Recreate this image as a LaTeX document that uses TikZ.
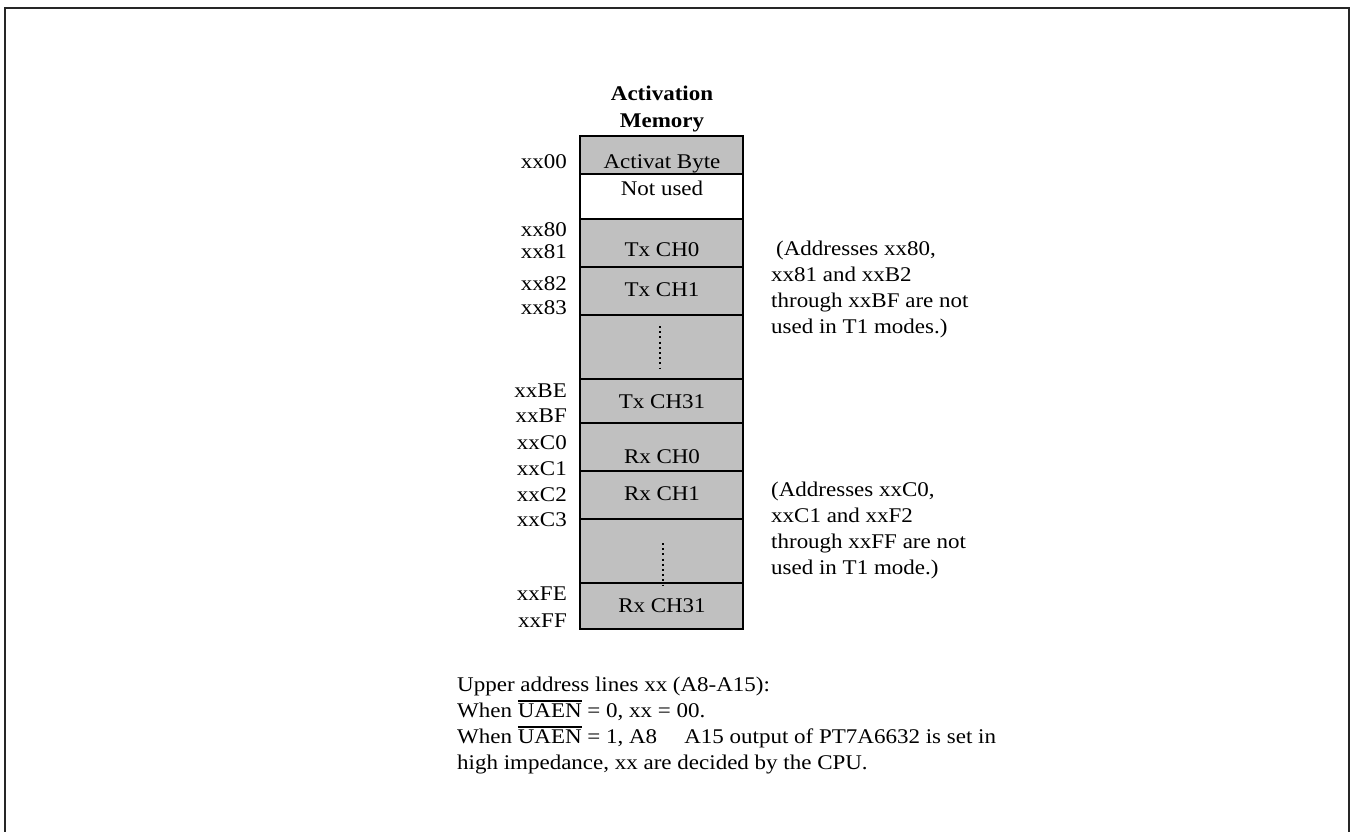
\documentclass[tikz,border=0pt]{standalone}
\usepackage{fontspec}
\setmainfont{Liberation Serif}[FakeStretch=1.1]
\definecolor{cellgray}{HTML}{C0C0C0}
\newcommand\ovl[1]{\leavevmode\vbox{\hrule height 1.2pt\kern 1.6pt\hbox{#1}}}
\begin{document}
\begin{tikzpicture}[x=1pt,y=-1pt,
  txt/.style={font=\fontsize{20.9}{26}\selectfont, inner sep=0pt, anchor=base},
  addr/.style={txt, anchor=base east},
  ttl/.style={txt, font=\fontsize{20.9}{26}\selectfont\bfseries},
  note/.style={txt, anchor=base west},
  rowline/.style={line width=1.4pt},
  dotline/.style={line width=2.2pt, dash pattern=on 2pt off 3.2pt},
  frame/.style={line width=2pt, black!85}]
\useasboundingbox (0,0) rectangle (1351,832);
% outer frame
\draw[frame] (5,832) -- (5,8) -- (1349,8) -- (1349,832);
% memory column
\fill[cellgray] (580,136) rectangle (743,174);
\fill[cellgray] (580,219) rectangle (743,629);
\foreach \yy in {174,219,267,315,379,423,471,519,583}
  \draw[rowline] (580,\yy) -- (743,\yy);
\draw[line width=2.2pt] (580,136) rectangle (743,629);
\coordinate (d1a) at (660,326); \coordinate (d1b) at (660,368);
\coordinate (d2a) at (663,543); \coordinate (d2b) at (663,585);
\draw[dotline] (d1a) -- (d1b);
\draw[dotline] (d2a) -- (d2b);
% title
\node[ttl] (t1) at (662,101) {Activation};
\node[ttl] (t2) at (662,128) {Memory};
% cell texts
\node[txt] (c0) at (662,168) {Activat Byte};
\node[txt] (c1) at (662,195) {Not used};
\node[txt] (c2) at (662,256) {Tx CH0};
\node[txt] (c3) at (662,296) {Tx CH1};
\node[txt] (c4) at (662,408) {Tx CH31};
\node[txt] (c5) at (662,463) {Rx CH0};
\node[txt] (c6) at (662,500) {Rx CH1};
\node[txt] (c7) at (662,612) {Rx CH31};
% addresses
\node[addr] (a00) at (567,168) {xx00};
\node[addr] (a80) at (567,236) {xx80};
\node[addr] (a81) at (567,258) {xx81};
\node[addr] (a82) at (567,290) {xx82};
\node[addr] (a83) at (567,314) {xx83};
\node[addr] (aBE) at (567,397) {xxBE};
\node[addr] (aBF) at (567,422) {xxBF};
\node[addr] (aC0) at (567,449) {xxC0};
\node[addr] (aC1) at (567,475) {xxC1};
\node[addr] (aC2) at (567,501) {xxC2};
\node[addr] (aC3) at (567,526) {xxC3};
\node[addr] (aFE) at (567,600) {xxFE};
\node[addr] (aFF) at (567,627) {xxFF};
% notes
\node[note] (n1a) at (771,255) {\hspace{5pt}(Addresses xx80,};
\node[note] (n1b) at (771,281) {xx81 and xxB2};
\node[note] (n1c) at (771,307) {through xxBF are not};
\node[note] (n1d) at (771,333) {used in T1 modes.)};
\node[note] (n2a) at (771,496) {(Addresses xxC0,};
\node[note] (n2b) at (771,522) {xxC1 and xxF2};
\node[note] (n2c) at (771,548) {through xxFF are not};
\node[note] (n2d) at (771,574) {used in T1 mode.)};
% bottom text
\node[note] (b1) at (457,691) {Upper address lines xx (A8-A15):};
\node[note] (b2) at (457,717) {When \ovl{UAEN} = 0, xx = 00.};
\node[note] (b3) at (457,743) {When \ovl{UAEN} = 1, A8\hspace{1.3em}A15 output of PT7A6632 is set in};
\node[note] (b4) at (457,769) {high impedance, xx are decided by the CPU.};
\end{tikzpicture}
\end{document}
